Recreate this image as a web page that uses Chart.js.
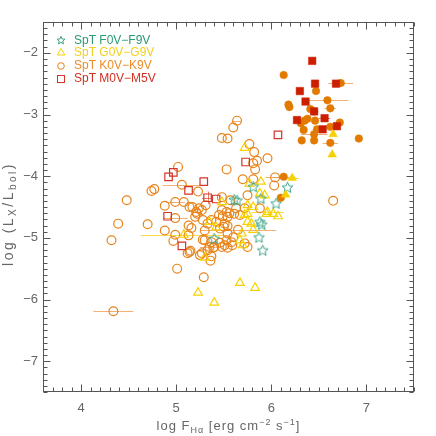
<!DOCTYPE html>
<html><head><meta charset="utf-8">
<script src="https://cdn.jsdelivr.net/npm/chart.js@4"></script>
<style>html,body{margin:0;padding:0;background:#fff}</style>
</head><body>
<canvas id="c" width="436" height="436"></canvas>
<script>
const xTicks = [4, 5, 6, 7];
const yTicks = [-7, -6, -5, -4, -3, -2];
const legendLabels = ['SpT F0V\u2212F9V', 'SpT G0V\u2212G9V', 'SpT K0V\u2212K9V', 'SpT M0V\u2212M5V'];

// points: [log F_Halpha, log(Lx/Lbol), xerr, yerr]
const starsF = [
 [5.81,-4.17],[6.17,-4.18],[5.61,-4.38],[5.64,-4.39],[5.89,-4.36],[6.05,-4.44],
 [5.88,-4.74],[5.90,-4.78],[5.87,-4.99],[5.91,-5.20],[5.40,-5.01]
];
const gOpen = [
 [5.08,-4.95,0.45],[5.48,-4.42],[5.35,-4.74],[5.42,-4.83],[5.72,-3.54],[5.89,-4.09],
 [5.77,-4.12],[5.88,-4.28],[5.93,-4.31],[5.75,-4.47],[5.81,-4.50],[5.75,-4.61],
 [5.72,-4.63],[5.96,-4.58,0.17],[5.95,-4.61],[6.02,-4.61],[6.07,-4.65],[5.75,-4.74],
 [5.79,-4.77],[5.81,-4.87],[5.69,-4.93],[5.67,-5.04],[5.70,-5.12],[5.30,-5.32],
 [5.67,-5.73],[5.83,-5.81],[5.23,-5.89],[5.40,-6.05]
];
const gFilled = [
 [6.65,-3.32],[6.64,-3.65],[6.22,-4.03,0.07],[6.15,-4.30]
];
const kOpen = [
 [5.02,-3.85],[5.06,-4.14,0.20],[5.23,-4.25],[5.48,-4.34],[4.74,-4.24],[4.77,-4.21],
 [4.48,-4.39],[4.99,-4.42,0.10],[5.08,-4.42],[4.88,-4.48],[4.99,-4.68,0.13],[4.39,-4.77],
 [4.70,-4.78],[4.88,-4.88],[4.99,-4.95],[4.32,-5.04],[4.97,-5.05],[5.14,-5.23],
 [5.01,-5.50],[5.13,-4.80],[5.16,-4.84],[5.17,-4.50],[5.21,-4.58],[5.24,-4.52],
 [5.20,-4.66],[5.22,-4.61],[5.13,-4.96],[5.15,-5.21],[5.12,-5.25],[5.25,-5.28],
 [5.31,-4.47],[5.27,-4.55],[5.48,-4.55],[5.53,-4.58],[5.56,-4.60],[5.45,-4.63],
 [5.49,-4.65],[5.54,-4.66],[5.63,-4.52],[5.57,-4.39],[5.61,-4.61],[5.67,-4.63],
 [5.72,-4.52],[5.75,-4.31],[5.88,-4.52],[6.03,-4.15],[5.37,-4.71],[5.42,-4.74],
 [5.51,-4.77],[5.54,-4.81],[5.46,-4.85],[5.50,-4.82],[5.33,-4.77],[5.30,-4.88],
 [5.54,-4.93],[5.65,-4.87,0.40],[5.60,-4.99],[5.53,-5.04],[5.51,-5.12],[5.46,-5.08],
 [5.40,-5.15],[5.48,-5.15],[5.30,-5.04],[5.35,-5.15,0.10],[5.33,-5.20],[5.27,-5.25],
 [5.58,-5.07],[5.75,-5.15],[5.72,-5.09],[5.37,-5.30],[5.36,-5.37],[5.39,-5.16],
 [5.54,-5.16],[5.59,-5.12],[5.29,-5.64],[4.34,-6.19,0.21],[5.64,-3.10,0.05],[5.60,-3.21],
 [5.48,-3.38],[5.54,-3.39],[5.77,-3.48],[5.82,-3.61],[5.96,-3.71],[5.85,-3.75],
 [5.81,-3.79],[5.83,-3.89],[5.53,-3.89],[5.70,-4.05],[5.81,-4.05],[6.04,-4.02,0.10],
 [6.65,-4.40],[5.14,-4.50],[5.28,-4.71],[5.28,-5.03],[5.37,-5.07]
];
const kFilled = [
 [6.13,-2.36],[6.73,-2.49,0.13],[6.47,-2.62],[6.18,-2.84],[6.19,-2.88],[6.59,-2.77,0.22],
 [6.62,-2.90,0.06],[6.41,-2.91],[6.45,-2.95],[6.38,-3.07],[6.46,-3.10],[6.72,-3.13],
 [6.31,-3.14],[6.35,-3.10],[6.34,-3.25],[6.48,-3.24],[6.45,-3.32,0.14],[6.32,-3.42],
 [6.45,-3.42],[6.62,-3.46,0.08],[6.92,-3.39],[6.62,-3.20],[6.13,-4.01,0.12],[6.10,-4.35]
];
const mOpen = [
 [4.97,-3.94],[4.92,-4.01],[5.29,-4.09],[5.13,-4.23],[5.33,-4.35,0.06,0.10],[5.42,-4.37],
 [4.91,-4.65],[5.06,-5.13],[5.73,-3.77],[6.07,-3.33]
];
const mFilled = [
 [6.43,-2.13],[6.46,-2.50],[6.68,-2.50],[6.30,-2.62],[6.36,-2.79],[6.45,-2.95],
 [6.27,-3.09],[6.56,-3.06,0.06],[6.54,-3.24],[6.69,-3.19]
];

const C = {
  F:'#3aa487', G:'#f7d100', K:'#e8841c', Kf:'#e27a00', M:'#d2352a', Mf:'#cc1f00',
  Ftxt:'#2a9a72', Gtxt:'#f0d020', Ktxt:'#ec8c2a', Mtxt:'#d43020'
};

function starIcon(size, color, lw){
  const c = document.createElement('canvas'); c.width = c.height = size;
  const g = c.getContext('2d'); g.strokeStyle = color; g.lineWidth = lw; g.lineJoin = 'miter';
  const R = size/2 - 0.8, r = R*0.45, cx = size/2, cy = size/2 + 0.5;
  g.beginPath();
  for (let i=0;i<10;i++){ const a = -Math.PI/2 + i*Math.PI/5, rr = (i%2)?r:R; const x = cx+rr*Math.cos(a), y = cy+rr*Math.sin(a); i?g.lineTo(x,y):g.moveTo(x,y); }
  g.closePath(); g.stroke();
  return c;
}
const starImg = starIcon(13, C.F, 1);
const starLegend = starIcon(10, C.F, 1);

const toPts = a => a.map(p => ({x:p[0], y:p[1]}));
function ds(label, arr, style, color, filled, radius, order, errColor){
  return {label, data:toPts(arr), src:arr, pointStyle:style, pointRadius:radius, pointHoverRadius:radius,
    pointBorderColor:color, pointBackgroundColor: filled ? color : 'rgba(0,0,0,0)',
    pointBorderWidth: filled ? 0.5 : 1.2, showLine:false, order, errColor};
}

const datasets = [
  ds('K open', kOpen, 'circle', C.K, false, 4.4, 7, 'rgba(238,150,70,0.75)'),
  ds('M open', mOpen, 'rect', C.M, false, 5.3, 6, 'rgba(215,70,50,0.7)'),
  ds('G open', gOpen, 'triangle', C.G, false, 5.0, 5, 'rgba(248,215,40,0.85)'),
  ds('F', starsF, starImg, C.F, false, 5, 4, 'rgba(60,165,130,0.7)'),
  ds('K filled', kFilled, 'circle', C.Kf, true, 3.8, 3, 'rgba(238,150,70,0.75)'),
  ds('G filled', gFilled, 'triangle', C.G, true, 5.0, 2, 'rgba(248,215,40,0.85)'),
  ds('M filled', mFilled, 'rect', C.Mf, true, 5.3, 1, 'rgba(215,70,50,0.7)')
];

function drawRich(ctx, parts, x, y, spacing){
  ctx.letterSpacing = spacing + 'px';
  let w = 0;
  parts.forEach(p => { ctx.font = p.s + 'px "Liberation Sans", Arial, sans-serif'; w += ctx.measureText(p.t).width; });
  let cx = x - w/2;
  parts.forEach(p => { ctx.font = p.s + 'px "Liberation Sans", Arial, sans-serif'; ctx.fillText(p.t, cx, y + (p.dy||0)); cx += ctx.measureText(p.t).width; });
  ctx.letterSpacing = '0px';
}

const deco = {
  id:'deco',
  beforeDatasetsDraw(chart){
    const ctx = chart.ctx, xs = chart.scales.x, ys = chart.scales.y, a = chart.chartArea;
    ctx.save();
    ctx.beginPath(); ctx.rect(a.left, a.top, a.right-a.left, a.bottom-a.top); ctx.clip();
    ctx.lineWidth = 1;
    chart.data.datasets.forEach(d => {
      ctx.strokeStyle = d.errColor;
      d.src.forEach(p => {
        const px = xs.getPixelForValue(p[0]), py = Math.round(ys.getPixelForValue(p[1])) + 0.5;
        if (p[2]) { ctx.beginPath(); ctx.moveTo(xs.getPixelForValue(p[0]-p[2]), py); ctx.lineTo(xs.getPixelForValue(p[0]+p[2]), py); ctx.stroke(); }
        if (p[3]) { const qx = Math.round(px)+0.5; ctx.beginPath(); ctx.moveTo(qx, ys.getPixelForValue(p[1]-p[3])); ctx.lineTo(qx, ys.getPixelForValue(p[1]+p[3])); ctx.stroke(); }
      });
    });
    ctx.restore();
  },
  afterDraw(chart){
    const ctx = chart.ctx, xs = chart.scales.x, ys = chart.scales.y, a = chart.chartArea;
    const L = Math.round(a.left)+0.5, R = Math.round(a.right)-0.5, T = Math.round(a.top)+0.5, B = Math.round(a.bottom)-0.5;
    ctx.save();
    ctx.strokeStyle = '#555'; ctx.lineWidth = 1;
    ctx.strokeRect(L, T, R-L, B-T);
    ctx.beginPath();
    for (let i = Math.ceil(xs.min*10); i <= Math.floor(xs.max*10); i++){
      const v = i/10, px = Math.round(xs.getPixelForValue(v))+0.5, len = (i%10===0) ? 7 : 4;
      ctx.moveTo(px, B); ctx.lineTo(px, B-len);
      ctx.moveTo(px, T); ctx.lineTo(px, T+len);
    }
    for (let i = Math.ceil(ys.min*10); i <= Math.floor(ys.max*10); i++){
      const v = i/10, py = Math.round(ys.getPixelForValue(v))+0.5, len = (i%10===0) ? 7 : 4;
      ctx.moveTo(L, py); ctx.lineTo(L+len, py);
      ctx.moveTo(R, py); ctx.lineTo(R-len, py);
    }
    ctx.stroke();

    // axis titles
    ctx.fillStyle = '#666'; ctx.textBaseline = 'alphabetic';
    drawRich(ctx, [{t:'log F',s:13},{t:'H\u03b1',s:9,dy:3},{t:' [erg cm',s:13},{t:'\u22122',s:9,dy:-5},{t:' s',s:13},{t:'\u22121',s:9,dy:-5},{t:']',s:13}], (a.left+a.right)/2, 430, 1);
    ctx.save();
    ctx.translate(13, 214); ctx.rotate(-Math.PI/2);
    drawRich(ctx, [{t:'log (L',s:14},{t:'X',s:10,dy:3},{t:'/L',s:14},{t:'bol',s:10,dy:3},{t:')',s:14}], 0, 0, 2.5);
    ctx.restore();

    // legend
    const rows = [40, 52.5, 65.5, 78.5];
    const cols = [C.Ftxt, C.Gtxt, C.Ktxt, C.Mtxt];
    ctx.font = '12px "Liberation Sans", Arial, sans-serif';
    ctx.textBaseline = 'middle'; ctx.textAlign = 'left';
    rows.forEach((y, i) => { ctx.fillStyle = cols[i]; ctx.fillText(legendLabels[i], 74, y + 0.5); });
    const sx = 61;
    ctx.drawImage(starLegend, sx - 5, rows[0] - 5);
    ctx.lineWidth = 1;
    ctx.strokeStyle = C.G; ctx.beginPath(); ctx.moveTo(sx, rows[1]-4); ctx.lineTo(sx+3.8, rows[1]+2.5); ctx.lineTo(sx-3.8, rows[1]+2.5); ctx.closePath(); ctx.stroke();
    ctx.strokeStyle = C.K; ctx.beginPath(); ctx.arc(sx, rows[2]+0.5, 3.3, 0, 2*Math.PI); ctx.stroke();
    ctx.strokeStyle = C.M; ctx.strokeRect(sx-3.5, rows[3]-3, 7, 7);
    ctx.restore();
  }
};

new Chart(document.getElementById('c'), {
  type:'scatter',
  data:{datasets},
  options:{
    responsive:false, animation:false, devicePixelRatio:1,
    layout:{padding:{top:22, right:22, left:0, bottom:0}},
    plugins:{legend:{display:false}, tooltip:{enabled:false}},
    scales:{
      x:{type:'linear', min:3.6, max:7.5,
        afterFit:s=>{s.height=44;},
        afterBuildTicks:s=>{s.ticks = xTicks.map(v=>({value:v}));},
        grid:{display:false, drawTicks:false}, border:{display:false},
        ticks:{padding:9, color:'#666', font:{family:'"Liberation Sans", Arial, sans-serif', size:13}, callback:v=>String(v), maxRotation:0}},
      y:{type:'linear', min:-7.5, max:-1.5,
        afterFit:s=>{s.width=43;},
        afterBuildTicks:s=>{s.ticks = yTicks.map(v=>({value:v}));},
        grid:{display:false, drawTicks:false}, border:{display:false},
        ticks:{padding:5, color:'#666', font:{family:'"Liberation Sans", Arial, sans-serif', size:13}, callback:v=>'\u2212'+Math.abs(v)}}
    }
  },
  plugins:[deco]
});
</script>
</body></html>
